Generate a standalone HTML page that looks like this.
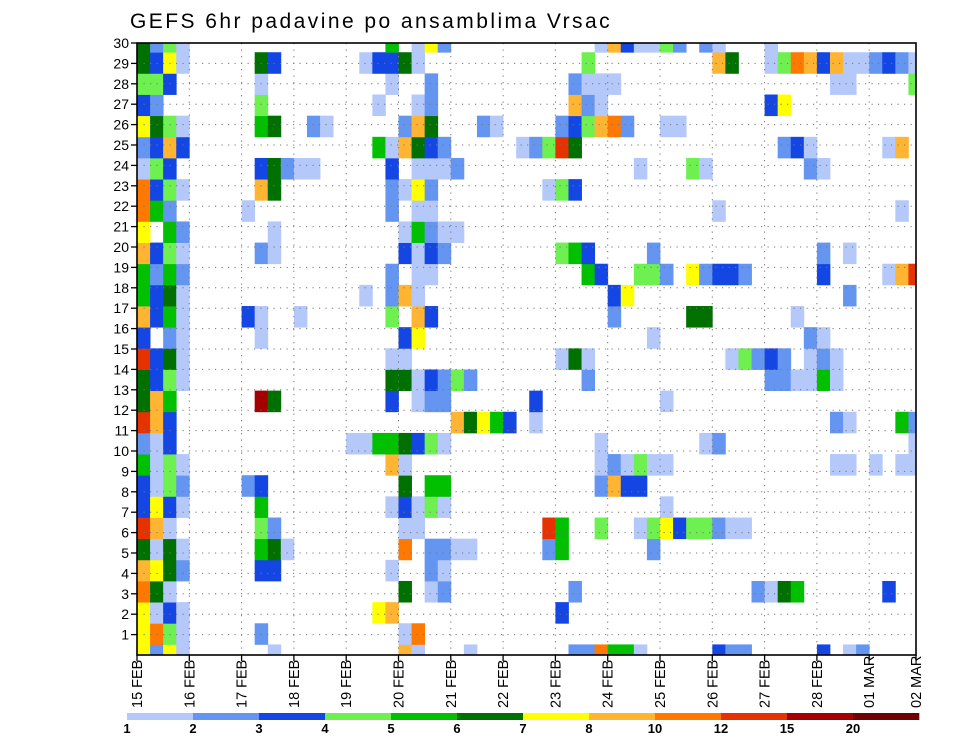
<!DOCTYPE html>
<html><head><meta charset="utf-8"><style>
html,body{margin:0;padding:0;background:#fff;}
svg{display:block;font-family:"Liberation Sans",sans-serif;}
</style></head><body>
<svg id="chart" width="960" height="742" viewBox="0 0 960 742">
<defs><clipPath id="plotclip"><rect x="137" y="43" width="779" height="612"/></clipPath></defs>
<text x="130" y="28" font-size="21" letter-spacing="2.45" fill="#000">GEFS 6hr padavine po ansamblima Vrsac</text>
<g id="cells" clip-path="url(#plotclip)"></g>
<g id="grid"></g>
<rect x="137" y="43" width="779" height="612" fill="none" stroke="#000" stroke-width="1.6"/>
<g id="yaxis"></g>
<g id="xaxis"></g>
<g id="legend"></g>
</svg>
<script>
// category labels
const dayLabels = ["15 FEB","16 FEB","17 FEB","18 FEB","19 FEB","20 FEB","21 FEB","22 FEB","23 FEB","24 FEB","25 FEB","26 FEB","27 FEB","28 FEB","01 MAR","02 MAR"];
const memberTicks = [1,2,3,4,5,6,7,8,9,10,11,12,13,14,15,16,17,18,19,20,21,22,23,24,25,26,27,28,29,30];
const legendLabels = ["1","2","3","4","5","6","7","8","10","12","15","20"];
const levelColors = ["#b4c8fa","#6495f0","#1446e4","#6ef050","#00c000","#007000","#ffff00","#ffb432","#ff7800","#e63200","#a50000","#6e0000"];
// codes: 1..9 -> level, 'a' 10, 'b' 11 (12-15), 'c' 12 (15-20)
const codeToLevel = {"1":0,"2":1,"3":2,"4":3,"5":4,"6":5,"7":6,"8":7,"9":8,"a":9,"b":9,"c":10};
// per-member rows (row index from bottom), "col:code" pairs
const row0  = "0:7 1:2 2:7 3:1 10:1 20:8 21:1 25:1 33:2 34:2 35:9 36:5 37:5 38:1 44:3 45:2 46:2 52:3 54:1 55:2";
const row1  = "0:7 1:9 2:4 3:1 9:2 20:1 21:9";
const row2  = "0:7 1:1 2:3 3:1 18:7 19:8 32:3";
const row3  = "0:9 1:6 2:1 20:6 22:1 23:2 33:2 47:2 48:1 49:6 50:5 57:3";
const row4  = "0:8 1:7 2:6 3:2 9:3 10:3 19:1 22:2 23:1";
const row5  = "0:6 1:1 2:6 3:1 9:5 10:6 11:1 20:9 22:2 23:2 24:1 25:1 31:2 32:5 39:2";
const row6  = "0:b 1:8 2:1 9:4 10:2 20:1 21:1 31:b 32:5 35:4 38:1 39:4 40:7 41:3 42:4 43:4 44:2 45:1 46:1";
const row7  = "0:3 1:7 2:3 3:1 9:5 19:1 20:3 21:1 22:4 23:1 40:1";
const row8  = "0:3 1:1 2:4 3:2 8:2 9:3 20:6 22:5 23:5 35:2 36:8 37:3 38:3";
const row9  = "0:5 1:1 2:4 3:1 19:8 20:1 35:1 36:2 37:1 38:4 39:1 40:1 53:1 54:1 56:1 58:1 59:1";
const row10 = "0:2 1:1 2:3 16:1 17:1 18:5 19:5 20:6 21:3 22:4 23:1 35:1 43:1 44:2 59:1";
const row11 = "0:b 1:8 2:3 24:8 25:6 26:7 27:5 28:3 30:1 53:2 54:1 58:5 59:2";
const row12 = "0:6 1:8 2:5 9:c 10:6 19:3 21:1 22:2 23:2 30:3 40:1";
const row13 = "0:6 1:3 2:4 3:1 19:6 20:6 21:1 22:3 23:2 24:4 25:2 34:2 48:2 49:2 50:1 51:1 52:5 53:1";
const row14 = "0:b 1:3 2:6 3:1 19:1 20:1 32:1 33:6 34:1 45:1 46:4 47:2 48:3 49:2 51:1 52:2 53:1";
const row15 = "0:3 2:2 3:1 9:1 20:3 21:7 39:1 51:2 52:1";
const row16 = "0:8 1:3 2:5 3:1 8:3 9:1 12:1 19:4 21:8 22:3 36:2 42:6 43:6 50:1";
const row17 = "0:5 1:3 2:6 3:1 17:1 19:2 20:8 21:1 36:3 37:7 54:2";
const row18 = "0:5 1:2 2:5 3:2 19:2 21:1 22:1 34:5 35:3 38:4 39:4 40:2 42:7 43:2 44:3 45:3 46:2 52:3 57:1 58:8 59:b";
const row19 = "0:8 1:3 2:4 3:1 9:2 10:1 20:3 21:1 22:3 23:2 32:4 33:5 34:3 39:2 52:2 54:1";
const row20 = "0:7 2:5 3:2 10:1 20:1 21:5 22:2 23:1 24:1";
const row21 = "0:9 1:5 2:2 8:1 19:2 21:1 22:1 44:1 58:1";
const row22 = "0:9 1:3 2:4 3:1 9:8 10:6 19:2 20:1 21:7 22:2 31:1 32:4 33:3";
const row23 = "0:1 1:4 2:3 9:3 10:6 11:2 12:1 13:1 19:3 21:1 22:1 23:1 24:2 38:1 42:4 43:1 51:2 52:1";
const row24 = "0:2 1:3 2:8 3:3 18:5 19:1 20:8 21:6 22:3 23:2 29:1 30:2 31:4 32:b 33:6 49:2 50:3 51:1 57:1 58:8";
const row25 = "0:7 1:6 2:4 3:1 9:5 10:6 13:2 14:1 20:2 21:8 22:6 26:2 27:1 32:2 33:3 34:4 35:8 36:9 37:2 40:1 41:1";
const row26 = "0:3 1:2 9:4 18:1 21:1 22:2 33:8 34:2 35:1 48:3 49:7";
const row27 = "0:4 1:4 2:3 9:1 19:1 22:2 33:2 34:1 35:1 36:1 53:1 54:1 59:4";
const row28 = "0:6 1:3 2:7 3:1 9:6 10:3 17:1 18:3 19:3 20:6 21:1 34:4 44:8 45:6 48:1 49:4 50:9 51:8 52:3 53:8 54:1 55:1 56:2 57:3 58:2 59:1";
const row29 = "0:6 1:2 2:4 3:1 19:5 21:1 22:7 23:2 35:1 36:8 37:3 38:1 39:1 40:4 41:2 43:2 44:1 48:1";
const memberRows = [row0,row1,row2,row3,row4,row5,row6,row7,row8,row9,row10,row11,row12,row13,row14,row15,row16,row17,row18,row19,row20,row21,row22,row23,row24,row25,row26,row27,row28,row29];

const NS = "http://www.w3.org/2000/svg";
const X0 = 137, DAYW = 52.3, COLW = DAYW/4;
const YB = 655, TICKH = 20.4, ROWH = 21.15;
function xCol(c){ return X0 + c*COLW; }
function xDay(d){ return X0 + d*DAYW; }
function yRowCenter(j){ return YB - j*ROWH; }
function yTick(k){ return YB - k*TICKH; }
function mk(tag, attrs, parent){ const e=document.createElementNS(NS,tag); for(const k in attrs) e.setAttribute(k,attrs[k]); parent.appendChild(e); return e; }

const cellsG = document.getElementById("cells");
memberRows.forEach((rowStr, j) => {
  rowStr.split(" ").forEach(pair => {
    const [c, code] = pair.split(":");
    const col = +c;
    const lvl = codeToLevel[code];
    const r = mk("rect", {x: xCol(col), y: yRowCenter(j) - ROWH/2, width: COLW + 0.4, height: ROWH + 0.4, fill: levelColors[lvl]}, cellsG);
    
    
  });
});

const gridG = document.getElementById("grid");
memberTicks.forEach(k => {
  if (k >= 30) return;
  const l = mk("line", {x1: X0, x2: 916, y1: yTick(k), y2: yTick(k), stroke: "#777", "stroke-width": 1, "stroke-dasharray": "1.2 5.3"}, gridG);
  
  
});
dayLabels.forEach((lab, d) => {
  const x = xDay(d);
  if (d === 0 || x > 916) return;
  const l = mk("line", {x1: x, x2: x, y1: 43, y2: 655, stroke: "#777", "stroke-width": 1, "stroke-dasharray": "1.2 5.3"}, gridG);
  
  
});

const yG = document.getElementById("yaxis");
memberTicks.forEach(k => {
  const y = yTick(k);
  const t = mk("line", {x1: 131, x2: 137, y1: y, y2: y, stroke: "#000", "stroke-width": 1.3}, yG);
  
  
  const tx = mk("text", {x: 129, y: y + 5, "font-size": 14, "text-anchor": "end", fill: "#000"}, yG);
  tx.textContent = k;
  
  
});

const xG = document.getElementById("xaxis");
dayLabels.forEach((lab, d) => {
  const x = Math.min(xDay(d), 916);
  const t = mk("line", {x1: x, x2: x, y1: 655, y2: 661, stroke: "#000", "stroke-width": 1.3}, xG);
  
  
  const tx = mk("text", {x: 0, y: 0, "font-size": 14.5, "text-anchor": "start", "dominant-baseline": "central", fill: "#000", transform: "translate(" + (x+1) + ",708) rotate(-90)"}, xG);
  tx.textContent = lab;
  
  
});

const legG = document.getElementById("legend");
const LX0 = 127, LW = 66;
levelColors.forEach((col, i) => {
  const r = mk("rect", {x: LX0 + i*LW, y: 713, width: LW + 0.3, height: 7, fill: col}, legG);
  
  
});
legendLabels.forEach((lab, i) => {
  const tx = mk("text", {x: LX0 + i*LW, y: 733, "font-size": 13, "font-weight": "bold", "text-anchor": "middle", fill: "#000"}, legG);
  tx.textContent = lab;
  
  
});
</script>
</body></html>
